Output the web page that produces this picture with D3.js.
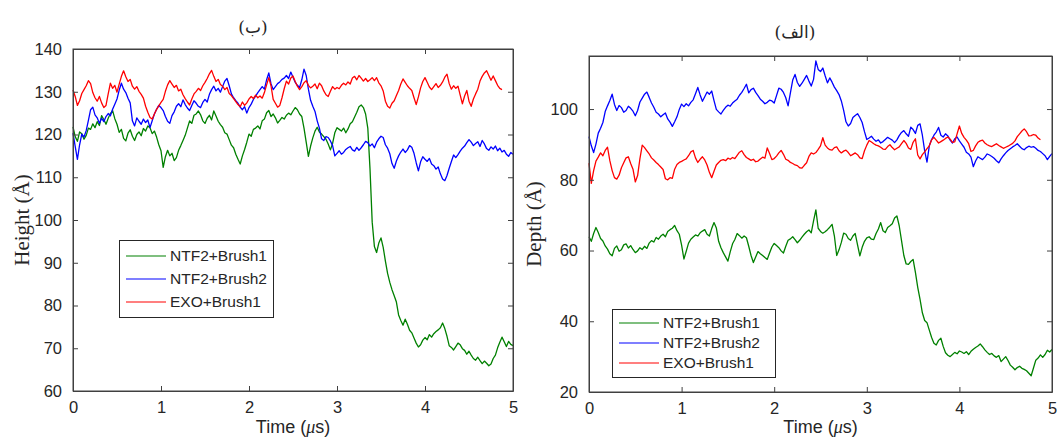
<!DOCTYPE html>
<html lang="en">
<head>
    <meta charset="UTF-8">
    <script src="https://d3js.org/d3.v7.min.js"></script>
    <title>Height and Depth vs Time</title>
    <style>
        html,
        body {
            margin: 0px;
            padding: 0px;
            background-color: #ffffff;
        }
        svg text {
            fill: #262626;
        }
    </style>
</head>
<body>
    <div id="chart"></div>
    <script>

        // sampling step of every trace, in microseconds
        const dt = 0.025;

        const seriesNames = ['NTF2+Brush1', 'NTF2+Brush2', 'EXO+Brush1'];
        const seriesColors = ['#008000', '#0000ff', '#ff0000'];

        const xTicks = [0, 1, 2, 3, 4, 5];
        const heightTicks = [60, 70, 80, 90, 100, 110, 120, 130, 140];
        const depthTicks = [20, 40, 60, 80, 100];

        // left panel: Height (A)
        const heightNTF2Brush1 = [
            121.8,119.5,118.4,120.6,120.2,118.9,119.8,121.5,121.2,122.5,121.6,123.0,122.1,124.4,123.5,122.4,123.8,124.9,125.6,123.7,
            122.4,120.5,121.2,119.1,118.5,120.3,121.1,119.6,118.6,120.0,120.6,119.7,121.4,120.8,122.0,121.6,120.2,120.8,119.4,117.6,
            116.2,112.3,114.8,116.3,115.0,115.6,113.9,114.6,116.3,117.4,118.6,119.8,121.5,123.2,122.6,124.5,124.8,125.5,124.6,123.2,
            122.6,123.8,124.5,123.4,125.5,124.3,123.1,122.3,121.7,120.4,120.1,118.8,117.5,116.9,115.4,114.2,113.1,115.0,116.5,118.2,
            120.1,119.6,121.2,121.5,122.0,121.3,123.2,123.6,125.1,125.6,124.2,124.8,123.9,122.7,123.3,124.0,123.6,124.5,125.0,124.6,
            125.5,126.3,125.8,124.8,124.2,121.5,118.2,114.9,117.3,119.2,120.8,121.7,120.6,120.1,119.5,118.9,117.8,116.4,117.9,120.4,
            121.6,121.2,120.8,121.5,120.4,121.3,122.5,123.0,124.1,125.2,126.5,126.9,126.3,124.8,121.5,112.0,99.5,93.8,92.4,94.6,
            95.8,93.6,90.4,87.5,85.4,83.7,82.3,80.8,77.8,76.5,75.4,76.8,75.6,74.2,73.6,72.4,71.2,70.3,70.8,71.9,
            72.5,72.0,73.2,72.6,73.4,73.9,74.3,74.8,75.9,74.6,72.8,70.6,70.2,69.6,70.4,71.2,70.8,69.9,69.5,68.6,
            69.3,68.4,67.6,67.2,67.9,67.1,66.4,67.0,66.5,65.9,66.3,67.6,68.4,70.1,71.4,72.6,71.5,70.4,71.6,70.9,
            70.6
        ];
        const heightNTF2Brush2 = [
            120.3,117.2,114.2,117.6,120.1,119.4,120.9,123.3,125.8,126.4,124.6,123.9,122.6,123.8,123.0,124.2,124.9,124.4,125.9,127.1,
            128.3,130.4,132.0,130.6,129.8,128.5,127.4,123.2,122.0,123.9,123.1,122.4,123.6,122.8,123.4,121.6,123.2,124.8,125.9,126.8,
            126.3,125.6,124.2,123.1,122.6,124.4,125.3,126.6,127.2,126.5,128.1,127.0,126.2,125.6,126.8,127.9,127.3,126.6,126.3,127.5,
            128.2,127.6,129.4,130.5,131.3,130.2,130.8,129.9,131.2,132.5,133.1,131.4,129.5,128.6,127.9,127.3,126.4,125.8,126.5,125.0,
            126.3,127.1,128.2,129.0,129.8,130.5,131.2,130.6,132.8,134.4,131.9,130.5,131.2,131.9,132.3,132.9,133.2,133.8,133.1,134.6,
            133.4,132.2,131.5,131.0,132.8,135.3,133.8,130.6,128.0,126.6,125.4,123.2,121.5,119.0,118.6,119.5,119.3,118.5,117.4,115.0,
            115.6,116.2,115.4,115.8,116.5,116.9,117.2,116.4,116.1,117.0,116.3,116.9,117.6,118.4,118.1,117.3,117.8,116.9,118.2,119.0,
            119.6,119.3,117.6,116.8,115.5,113.2,112.1,113.8,115.0,115.9,116.6,115.8,116.4,117.4,117.0,115.6,113.4,111.5,113.6,114.8,
            114.2,113.7,114.4,113.1,112.7,111.9,112.4,110.8,109.6,109.2,110.4,112.1,113.7,115.2,114.6,115.3,116.1,116.8,117.3,118.1,
            118.8,118.2,117.4,117.9,118.3,117.2,118.6,117.8,116.7,116.3,117.1,116.6,117.3,116.2,116.8,115.9,116.3,115.4,114.9,115.8,
            115.4
        ];
        const heightEXOBrush1 = [
            130.4,128.9,126.8,127.9,129.6,130.5,131.4,132.6,131.9,129.8,128.6,127.8,128.9,127.4,126.3,126.8,129.5,132.0,130.8,131.5,
            129.9,131.8,133.6,134.9,133.5,132.4,132.9,131.3,130.6,131.2,130.1,129.4,128.5,126.6,125.2,124.0,123.6,124.8,125.9,126.7,
            127.5,128.2,130.1,131.6,132.6,131.8,131.0,131.5,130.2,130.6,129.3,128.4,127.6,126.9,128.3,129.5,130.1,130.8,130.3,131.4,
            132.2,133.1,134.2,135.0,133.6,132.4,132.9,131.7,131.3,130.5,131.0,129.6,129.1,128.4,127.7,127.0,126.5,127.6,126.8,127.4,
            128.3,128.9,128.4,129.2,128.6,129.0,128.5,129.8,131.6,133.3,131.4,128.2,127.3,126.4,126.8,128.6,130.7,132.5,131.8,133.2,
            133.7,132.4,131.3,130.5,131.2,132.1,132.6,131.5,130.9,131.3,131.8,130.7,132.0,131.4,130.2,129.3,128.9,130.1,131.2,130.6,
            131.0,130.7,131.5,132.0,131.6,132.3,131.8,133.2,133.6,132.8,133.8,133.2,132.5,133.1,132.4,132.8,133.3,132.6,133.3,132.1,
            131.4,130.2,127.8,126.6,126.2,127.3,127.9,129.1,130.3,131.8,133.0,132.2,131.4,130.8,130.3,128.6,127.0,128.8,130.9,132.4,
            133.3,132.2,131.1,130.5,131.2,131.9,131.0,131.5,132.3,133.4,134.1,131.9,130.6,131.4,130.8,131.3,129.2,127.2,129.0,130.3,
            127.8,126.6,128.3,129.5,130.6,132.5,133.6,134.4,134.9,133.8,132.7,133.7,132.6,131.5,130.8,130.5
        ];

        // right panel: Depth (A)
        const depthNTF2Brush1 = [
            63.9,62.6,64.8,66.5,65.1,63.4,62.7,61.3,60.4,59.1,58.5,60.6,61.3,59.8,60.2,61.6,61.9,60.7,61.4,60.3,
            59.4,59.9,60.8,60.3,61.2,60.6,62.1,62.8,62.4,63.7,63.2,64.1,64.6,63.9,65.4,65.9,66.3,67.1,65.6,64.6,
            61.5,57.6,59.8,62.1,63.2,63.8,64.4,64.1,65.0,65.5,65.9,64.6,64.1,66.2,67.9,66.4,62.6,60.8,59.4,58.2,
            57.0,59.6,61.9,63.1,64.8,64.2,63.5,64.1,63.6,61.2,58.6,56.6,58.2,59.7,59.1,58.6,58.0,57.5,59.3,61.0,
            62.0,61.4,60.8,59.9,59.3,61.2,62.9,63.3,63.9,63.1,62.2,62.9,63.8,64.6,65.3,65.8,65.0,68.4,71.5,66.3,
            65.4,64.9,65.3,65.9,66.6,67.4,64.1,58.6,60.2,62.3,64.9,64.6,63.4,62.9,64.1,64.8,61.6,58.5,60.9,62.6,
            63.6,63.9,63.2,63.1,64.8,66.1,67.9,65.6,65.1,66.5,67.0,67.6,69.2,69.8,67.0,62.8,58.6,56.2,56.1,56.9,
            57.5,53.8,49.6,46.2,42.4,40.2,39.6,37.5,35.4,33.8,33.3,34.6,35.2,32.9,31.1,30.4,30.0,30.6,31.2,30.8,
            31.6,31.3,30.9,31.4,30.6,31.5,32.1,32.6,33.0,33.6,32.8,31.9,31.2,30.6,30.9,30.2,29.8,30.3,28.6,29.3,
            30.0,28.9,27.6,27.0,26.3,26.9,27.3,26.7,26.4,26.0,25.3,24.6,26.8,29.0,29.6,30.5,29.8,30.6,31.8,31.3,
            32.0
        ];
        const depthNTF2Brush2 = [
            92.2,89.6,87.7,90.1,93.2,94.6,96.2,99.3,100.9,102.4,104.2,101.3,99.6,101.0,100.4,99.1,99.6,100.8,100.2,99.4,
            98.1,99.6,102.0,103.1,104.2,104.8,103.3,101.7,100.5,99.1,98.6,97.8,98.4,98.9,97.2,96.3,95.1,96.4,97.8,99.9,
            101.4,100.7,101.5,100.9,101.9,102.6,104.3,106.1,104.0,102.2,103.5,104.8,104.2,105.1,102.4,99.9,99.2,98.6,99.6,100.5,
            101.1,100.8,101.7,102.3,102.8,103.9,104.7,105.8,107.0,104.6,105.5,105.9,104.7,103.8,102.8,102.2,101.5,101.9,102.5,102.3,
            101.7,103.8,105.9,105.6,104.7,103.2,100.9,104.6,108.2,109.8,107.5,106.4,107.3,108.4,109.5,107.9,106.5,108.4,113.6,111.2,
            110.6,111.6,109.4,107.4,108.8,107.6,106.2,105.2,104.1,102.3,99.6,96.4,95.2,95.9,97.6,98.2,98.7,97.6,96.2,93.6,
            91.4,91.8,92.3,91.5,90.9,91.3,90.4,90.8,91.4,92.0,91.6,91.2,90.5,91.3,92.5,93.4,93.9,93.0,92.3,94.9,
            94.2,93.1,95.4,95.8,92.6,88.2,85.0,89.6,91.4,92.6,93.5,94.8,92.6,92.1,93.0,92.4,91.2,90.4,91.6,92.1,
            91.0,90.1,89.2,87.8,87.3,86.4,83.7,85.3,86.5,86.1,85.7,86.4,87.3,87.0,86.6,86.1,85.4,84.8,85.9,86.8,
            87.6,88.3,88.8,89.3,89.7,90.2,89.5,88.8,88.5,89.1,89.5,89.2,89.4,88.9,88.3,88.0,87.4,86.8,85.7,86.6,
            87.4
        ];
        const depthEXOBrush1 = [
            84.7,79.0,82.6,85.3,86.4,87.6,86.8,88.3,89.2,85.4,82.6,80.6,80.2,81.3,83.4,84.8,86.2,86.5,84.6,83.0,
            79.4,81.2,86.0,89.8,89.1,88.2,87.3,86.2,85.6,84.9,84.3,83.6,82.9,80.3,80.0,80.6,80.4,83.0,84.3,84.9,
            85.2,85.6,85.9,86.8,87.9,88.3,86.2,84.9,85.8,86.5,85.6,84.2,82.1,80.6,82.4,84.2,84.9,85.5,85.7,85.4,
            86.1,85.8,86.3,86.0,86.9,87.8,88.2,87.1,86.3,85.9,85.5,85.8,85.1,85.3,85.9,86.4,86.1,89.0,87.4,85.7,
            86.0,86.7,87.6,88.3,87.2,85.8,85.5,84.9,84.6,84.2,84.0,83.4,83.3,84.1,84.8,86.6,87.6,87.3,87.7,88.6,
            89.6,91.9,89.8,89.0,88.5,88.4,89.1,89.3,88.2,87.6,88.1,88.4,87.7,86.8,87.2,87.6,87.1,86.2,86.0,88.2,
            89.8,91.1,90.7,90.2,89.8,89.6,89.2,88.7,88.6,89.4,89.9,89.1,88.5,88.9,89.3,90.2,91.1,90.3,89.0,88.6,
            90.6,91.6,87.0,85.9,87.1,87.9,88.8,89.6,91.3,92.0,91.2,90.4,90.8,91.2,91.7,92.1,91.5,90.6,90.7,93.0,
            95.2,93.1,92.0,91.2,90.2,88.0,88.3,89.6,90.6,91.0,91.2,90.4,89.9,89.6,89.4,89.8,90.2,89.7,89.3,88.9,
            89.2,89.5,89.9,90.3,91.0,92.2,93.0,93.8,94.4,93.6,92.4,92.5,92.8,92.6,91.8,91.3
        ];

        const width = 1057;
        const height = 438;

        const svg = d3.select('#chart').append('svg')
            .attr('width', width)
            .attr('height', height)
            .style('font-family', '"Liberation Sans", Arial, sans-serif');

        const panels = [
            {
                box: {left: 73, right: 513, top: 49, bottom: 391},
                yDomain: [60, 140], yTicks: heightTicks,
                series: [heightNTF2Brush1, heightNTF2Brush2, heightEXOBrush1],
                title: '(ب)', titleX: 253, titleY: 33,
                yLabel: 'Height (Å)', yLabelX: 29,
                legend: {left: 119, top: 240, width: 154, height: 77}
            },
            {
                box: {left: 589, right: 1052, top: 56, bottom: 392},
                yDomain: [20, 115], yTicks: depthTicks,
                series: [depthNTF2Brush1, depthNTF2Brush2, depthEXOBrush1],
                title: '(الف)', titleX: 795, titleY: 38,
                yLabel: 'Depth (Å)', yLabelX: 541,
                legend: {left: 612, top: 309, width: 163, height: 68}
            }
        ];

        function drawPanel(p) {
            let b = p.box;
            let x = d3.scaleLinear().domain([0, 5]).range([b.left, b.right]);
            let y = d3.scaleLinear().domain(p.yDomain).range([b.bottom, b.top]);

            let g = svg.append('g');

            // traces
            let line = d3.line()
                .x((d, i) => x(i * dt))
                .y(d => y(d));

            p.series.forEach((s, k) => {
                g.append('path')
                    .datum(s)
                    .attr('d', line)
                    .attr('fill', 'none')
                    .attr('stroke', seriesColors[k])
                    .attr('stroke-width', 1.3)
                    .attr('stroke-linejoin', 'round');
            });

            // axes, MATLAB style box with inward ticks
            let tick = 5;
            let fmt = d3.format('d');
            g.append('g')
                .attr('transform', `translate(0,${b.bottom})`)
                .call(d3.axisBottom(x).tickValues(xTicks).tickFormat(fmt).tickSizeInner(-tick).tickSizeOuter(0).tickPadding(10));
            g.append('g')
                .attr('transform', `translate(0,${b.top})`)
                .call(d3.axisTop(x).tickValues(xTicks).tickSizeInner(-tick).tickSizeOuter(0).tickFormat(''));
            g.append('g')
                .attr('transform', `translate(${b.left},0)`)
                .call(d3.axisLeft(y).tickValues(p.yTicks).tickFormat(fmt).tickSizeInner(-tick).tickSizeOuter(0).tickPadding(11));
            g.append('g')
                .attr('transform', `translate(${b.right},0)`)
                .call(d3.axisRight(y).tickValues(p.yTicks).tickSizeInner(-tick).tickSizeOuter(0).tickFormat(''));

            g.selectAll('.domain').attr('stroke', '#404040');
            g.selectAll('.tick line').attr('stroke', '#404040');
            g.selectAll('.tick text')
                .attr('font-size', '16.5px')
                .attr('fill', '#262626');

            g.append('rect')
                .attr('x', b.left).attr('y', b.top)
                .attr('width', b.right - b.left).attr('height', b.bottom - b.top)
                .attr('fill', 'none')
                .attr('stroke', '#404040')
                .attr('stroke-width', 1);

            // labels
            g.append('text')
                .attr('x', p.titleX).attr('y', p.titleY)
                .attr('text-anchor', 'middle')
                .attr('font-family', '"DejaVu Serif", "DejaVu Sans", serif')
                .attr('font-size', '17px')
                .text(p.title);

            g.append('text')
                .attr('x', (b.left + b.right) / 2).attr('y', 433)
                .attr('text-anchor', 'middle')
                .attr('font-size', '18px')
                .html('Time (<tspan font-family="\'Liberation Serif\', serif" font-style="italic">μ</tspan>s)');

            g.append('text')
                .attr('transform', `translate(${p.yLabelX},${(b.top + b.bottom) / 2}) rotate(-90)`)
                .attr('text-anchor', 'middle')
                .attr('font-family', '"Liberation Serif", "DejaVu Serif", serif')
                .attr('font-size', '21px')
                .text(p.yLabel);

            // legend
            let L = p.legend;
            let lg = g.append('g');
            lg.append('rect')
                .attr('x', L.left + 0.5).attr('y', L.top + 0.5)
                .attr('width', L.width).attr('height', L.height)
                .attr('fill', '#ffffff')
                .attr('stroke', '#262626')
                .attr('stroke-width', 1);
            let rowH = (L.height - 8) / 3;
            seriesNames.forEach((name, k) => {
                let cy = Math.round(L.top + 4 + rowH * (k + 0.5));
                lg.append('line')
                    .attr('x1', L.left + 7).attr('x2', L.left + 47)
                    .attr('y1', cy).attr('y2', cy)
                    .attr('stroke', seriesColors[k])
                    .attr('stroke-width', 1.2);
                lg.append('text')
                    .attr('x', L.left + 51).attr('y', cy)
                    .attr('dy', '0.35em')
                    .attr('font-size', '15.5px')
                    .text(name);
            });
        }

        panels.forEach(drawPanel);

    </script>
</body>
</html>
